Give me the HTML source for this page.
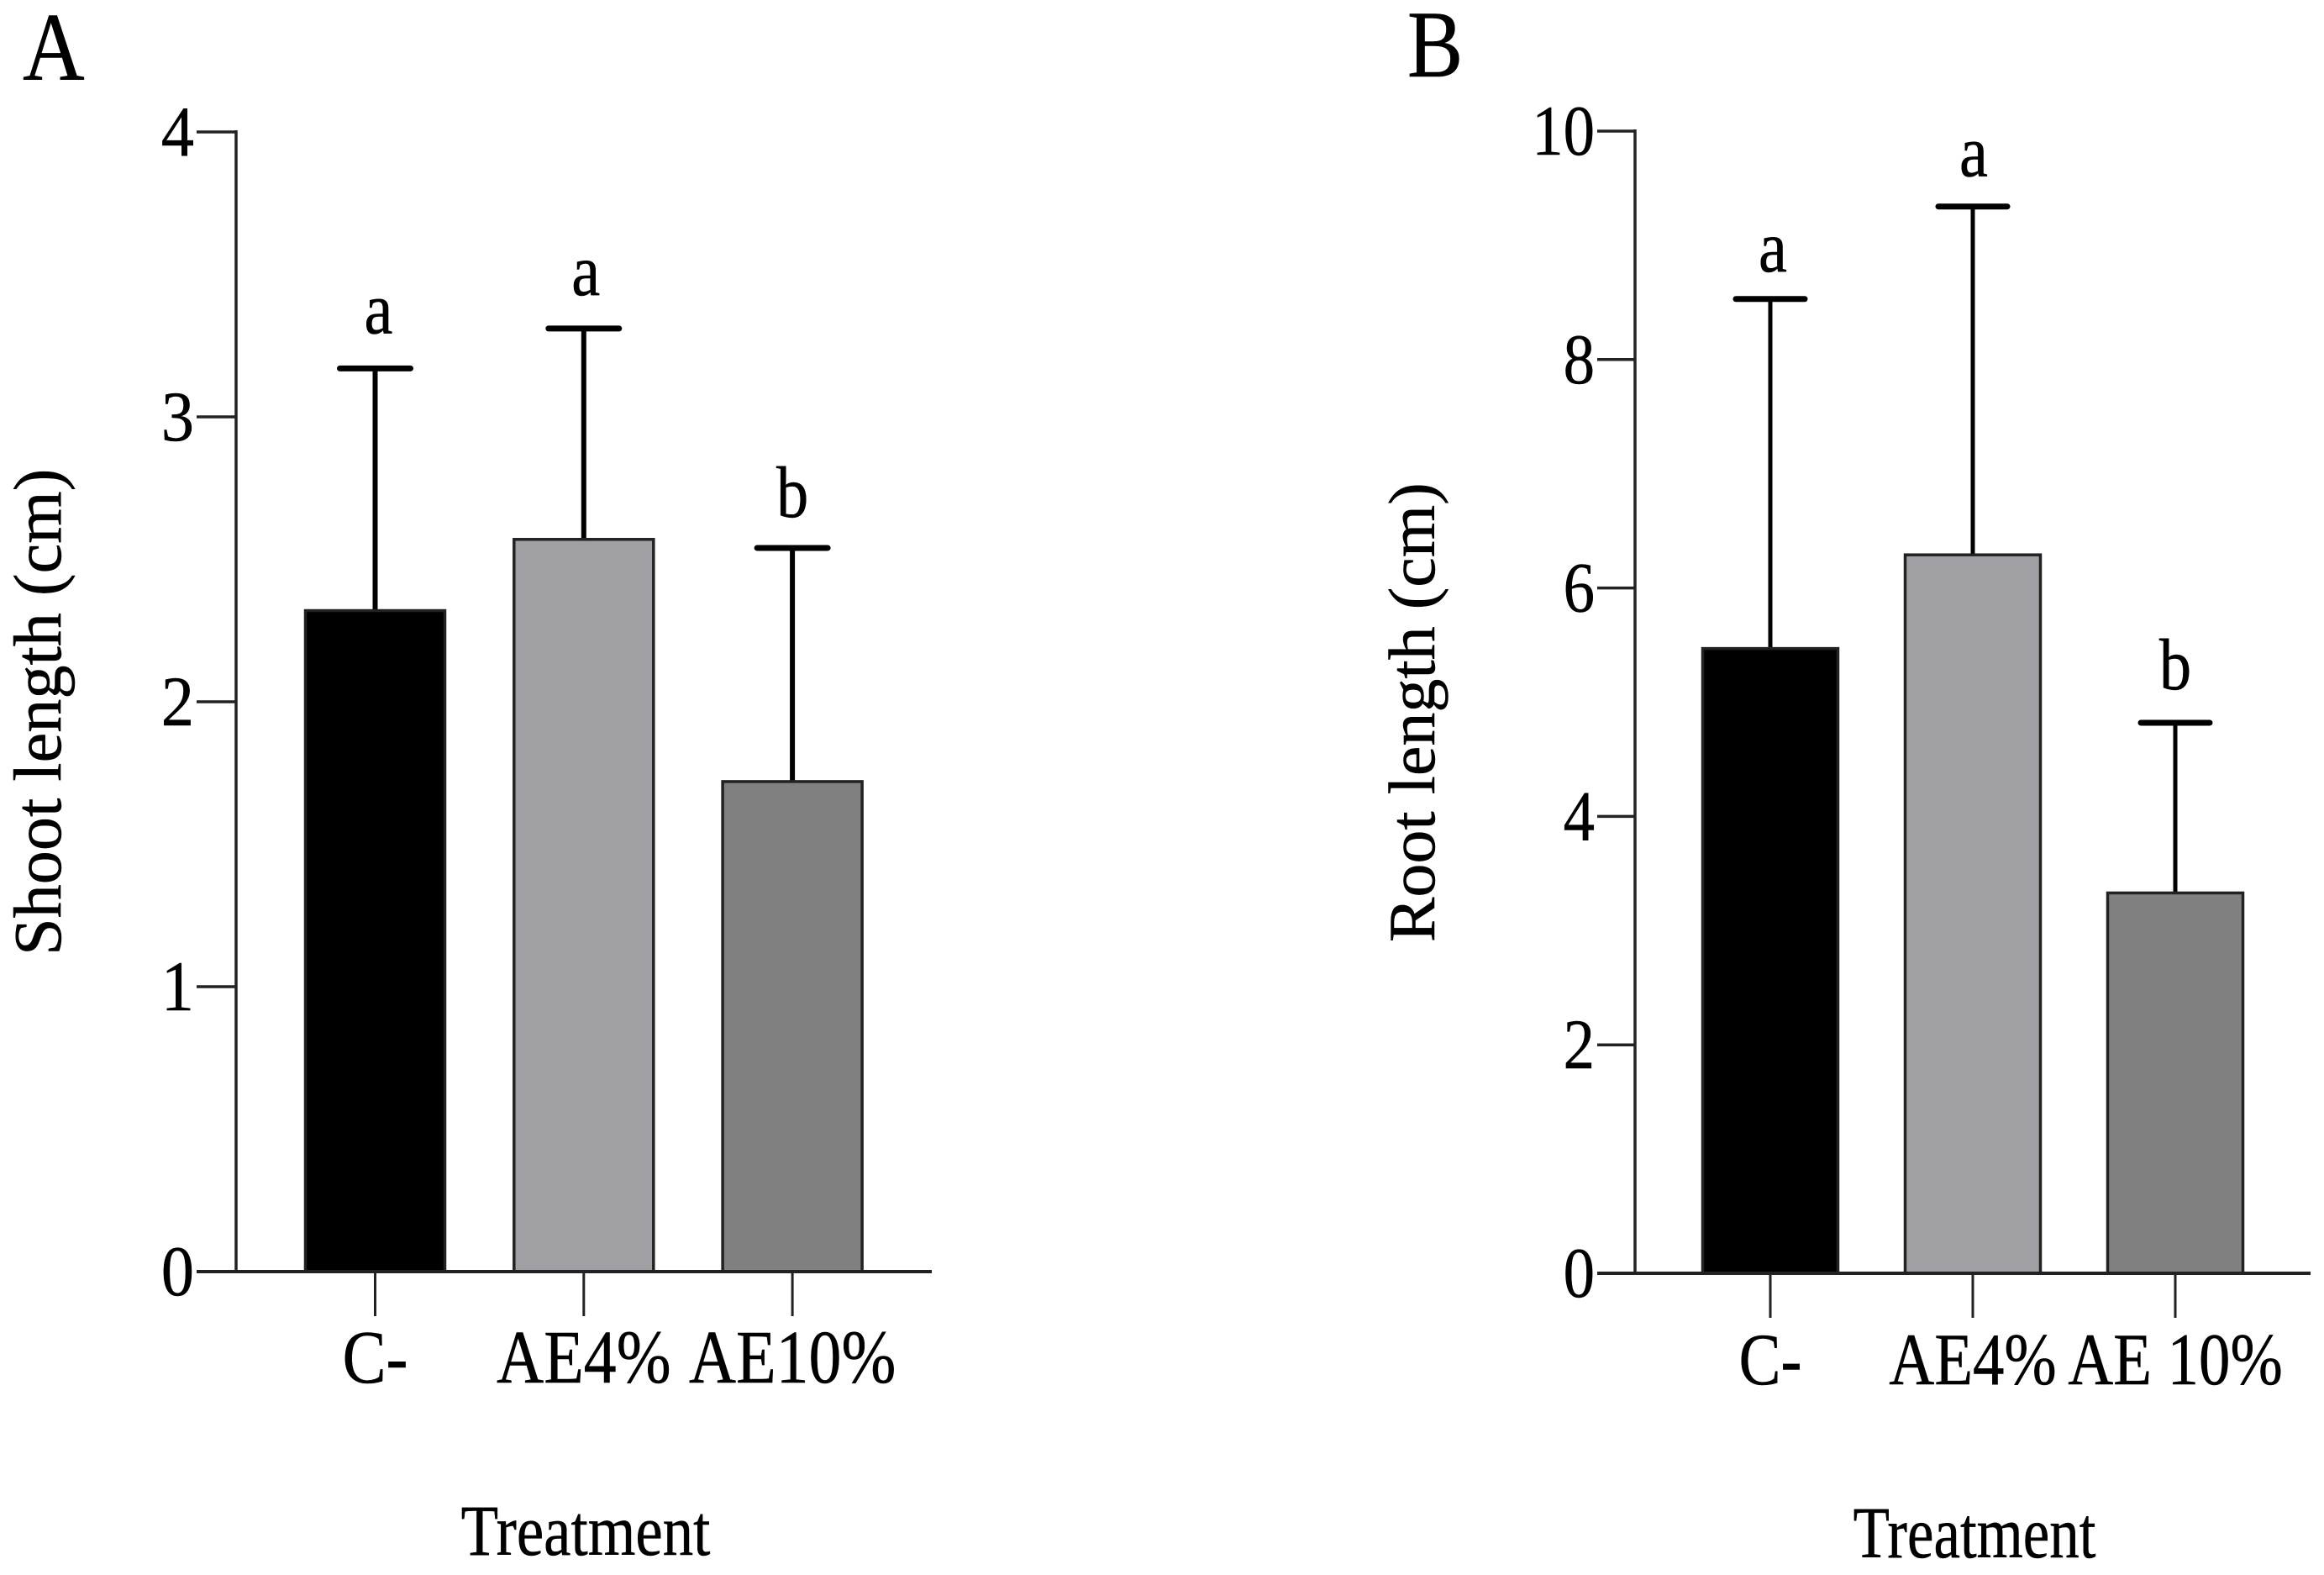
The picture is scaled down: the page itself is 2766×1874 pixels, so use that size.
<!DOCTYPE html>
<html lang="en">
<head>
<meta charset="utf-8">
<title>Shoot and root length by treatment</title>
<style>
html,body{margin:0;padding:0;background:#fff;width:2766px;height:1874px;overflow:hidden}
svg{display:block;position:absolute;left:0;top:0}
text{font-family:"Liberation Serif","Times New Roman",serif;fill:#000;stroke:#000;stroke-width:0.5}
</style>
</head>
<body>
<svg id="figure" width="2766" height="1874" viewBox="0 0 2766 1874" xmlns="http://www.w3.org/2000/svg">
  <rect x="0" y="0" width="2766" height="1874" fill="#fff"/>
  <text transform="translate(27,95) scale(0.88,1)" font-size="116">A</text>
  <text transform="translate(1675,91) scale(0.88,1)" font-size="113">B</text>
  <text transform="translate(72,1137) rotate(-90) scale(1.003,1)" font-size="80">Shoot length (cm)</text>
  <text transform="translate(1707,1121) rotate(-90) scale(1.026,1)" font-size="78">Root length (cm)</text>
  <text transform="translate(697,1850) scale(0.847,1)" font-size="86" text-anchor="middle">Treatment</text>
  <text transform="translate(2350,1853) scale(0.815,1)" font-size="87" text-anchor="middle">Treatment</text>
</svg>
<script>
const categoriesA = ['C-', 'AE4%', 'AE10%'];
const shootMeans = [2.32, 2.57, 1.72];
const shootErrorTops = [3.17, 3.31, 2.54];
const shootLetters = ['a', 'a', 'b'];
const shootTicks = [0, 1, 2, 3, 4];

const categoriesB = ['C-', 'AE4%', 'AE 10%'];
const rootMeans = [5.47, 6.29, 3.33];
const rootErrorTops = [8.53, 9.34, 4.82];
const rootLetters = ['a', 'a', 'b'];
const rootTicks = [0, 2, 4, 6, 8, 10];

const barFills = ['#000000', '#a09fa3', '#808080'];

const svg = document.getElementById('figure');
const NS = 'http://www.w3.org/2000/svg';

function make(tag, props) {
  const el = document.createElementNS(NS, tag);
  for (const k in props) el.setAttribute(k, props[k]);
  svg.appendChild(el);
  return el;
}

function drawPanel(p) {
  const y = v => p.y0 - (v / p.yMax) * (p.y0 - p.yTop);
  const x = i => p.x0 + i * p.step;

  p.means.forEach((m, i) => {
    const top = y(p.tops[i]);
    const stem = make('line', {x1: x(i), x2: x(i), y1: y(m), y2: top, stroke: '#000', 'stroke-width': p.errW});
    
    
    const cap = make('line', {x1: x(i) - p.capW / 2, x2: x(i) + p.capW / 2, y1: top, y2: top, stroke: '#000', 'stroke-width': 7, 'stroke-linecap': 'round'});
    
    
    const bar = make('rect', {x: x(i) - p.barW / 2, y: y(m), width: p.barW, height: p.y0 - y(m), fill: barFills[i], stroke: '#222', 'stroke-width': 3.5});
    
    
    const letter = make('text', {transform: 'translate(' + (x(i) + p.letterDx[i]) + ',' + (top - p.letterGap[i]) + ') scale(0.88,1)', 'font-size': 87, 'text-anchor': 'middle'});
    letter.textContent = p.letters[i];
    
    
    const tick = make('line', {x1: x(i), x2: x(i), y1: p.y0, y2: p.y0 + 53, stroke: '#222', 'stroke-width': 3});
    
    
    const label = make('text', {transform: 'translate(' + x(i) + ',' + p.labelY + ') scale(' + p.labelSx + ',1)', 'font-size': p.labelSize, 'text-anchor': 'middle'});
    label.textContent = p.cats[i];
    
    
  });

  p.ticks.forEach(t => {
    const tick = make('line', {x1: p.axisX - p.tickLen, x2: p.axisX, y1: y(t), y2: y(t), stroke: '#222', 'stroke-width': 3.5});
    
    
    const label = make('text', {transform: 'translate(' + (p.axisX - p.tickLen - 3) + ',' + (y(t) + 28) + ') scale(' + p.tickSx + ',1)', 'font-size': 85, 'text-anchor': 'end'});
    label.textContent = t;
    
    
  });

  const yAxis = make('line', {x1: p.axisX, x2: p.axisX, y1: p.yTop - 2, y2: p.y0, stroke: '#222', 'stroke-width': 3.5});
  
  
  const xAxis = make('line', {x1: p.axisX - p.tickLen, x2: p.xEnd, y1: p.y0, y2: p.y0, stroke: '#222', 'stroke-width': 4});
  
  
}

drawPanel({
  id: 'a', cats: categoriesA, means: shootMeans, tops: shootErrorTops, letters: shootLetters, ticks: shootTicks,
  yMax: 4, y0: 1513, yTop: 157, x0: 446.5, step: 248.3, barW: 166, capW: 84, errW: 6,
  axisX: 281, tickLen: 47, xEnd: 1109, labelY: 1645, labelSize: 90, labelSx: 0.865, tickSx: 0.92,
  letterGap: [42, 40, 37], letterDx: [4, 2.5, 0]
});

drawPanel({
  id: 'b', cats: categoriesB, means: rootMeans, tops: rootErrorTops, letters: rootLetters, ticks: rootTicks,
  yMax: 10, y0: 1515, yTop: 156, x0: 2107, step: 241, barW: 161, capW: 82, errW: 5,
  axisX: 1946, tickLen: 45, xEnd: 2750, labelY: 1647, labelSize: 88, labelSx: 0.85, tickSx: 0.88,
  letterGap: [33, 36, 40], letterDx: [3, 1, 0]
});
</script>
</body>
</html>
